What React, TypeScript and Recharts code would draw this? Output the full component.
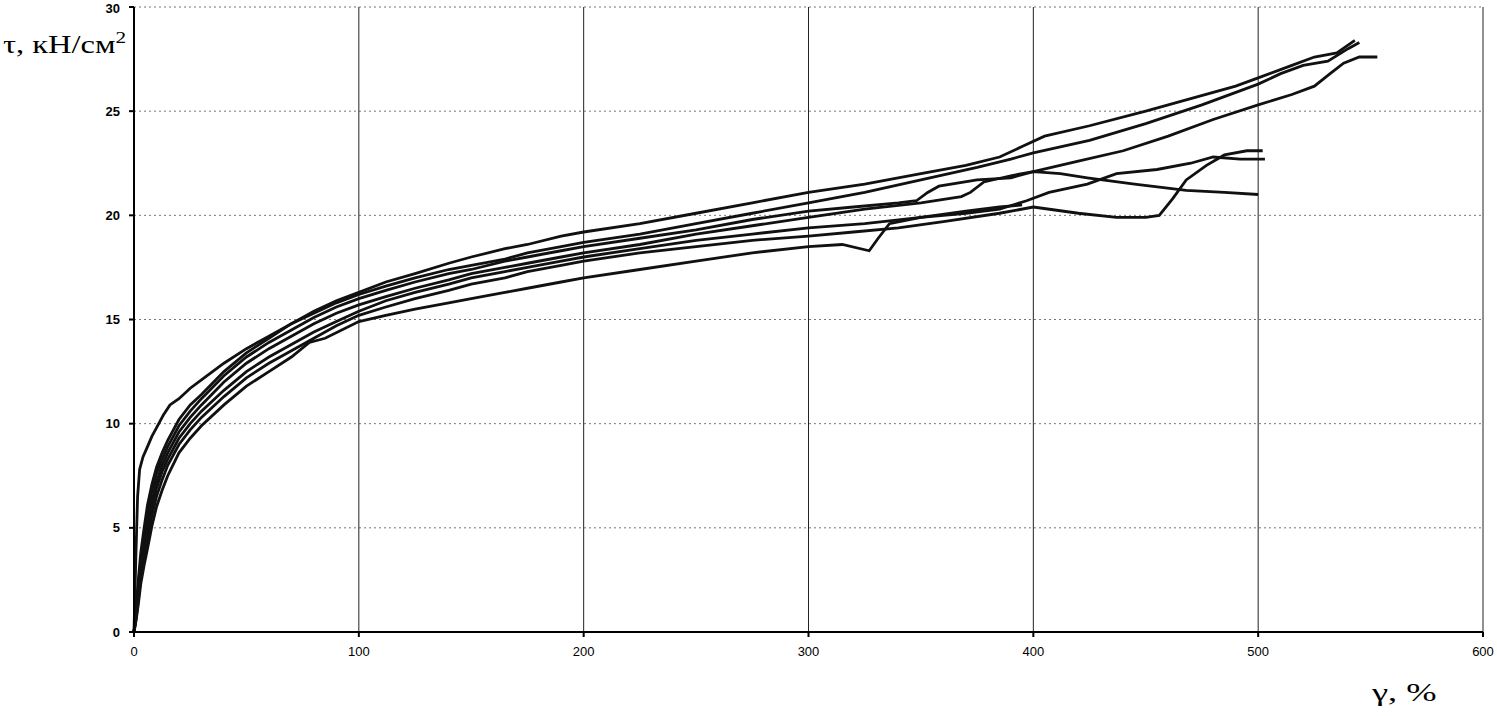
import { LineChart, Line, XAxis, YAxis, CartesianGrid } from "recharts";

// shear strain γ (%) vs shear stress τ (кН/см²), one list of [γ, τ] per specimen
const curveA: [number, number][] = [
  [0, 0], [0.8, 3.5], [1.6, 6.5], [2.5, 7.8], [4, 8.4], [6, 8.9], [8, 9.4], [10, 9.8],
  [13, 10.4], [16, 10.9], [20, 11.2], [25, 11.7], [30, 12.1], [40, 12.9], [50, 13.6],
  [60, 14.2], [70, 14.8], [80, 15.4], [90, 15.9], [100, 16.3], [112, 16.8], [125, 17.2],
  [140, 17.7], [150, 18.0], [165, 18.4], [175, 18.6], [190, 19.0], [200, 19.2], [225, 19.6],
  [250, 20.1], [275, 20.6], [300, 21.1], [325, 21.5], [350, 22.0], [370, 22.4], [385, 22.8],
  [395, 23.3], [405, 23.8], [425, 24.3], [450, 25.0], [470, 25.6], [490, 26.2], [500, 26.6],
  [515, 27.2], [525, 27.6], [535, 27.8], [543, 28.4],
];
const curveB: [number, number][] = [
  [0, 0], [1, 1.2], [2, 2.6], [3, 3.8], [4.5, 5.0], [6, 6.1], [8, 7.1], [10, 7.9],
  [12.5, 8.6], [15, 9.2], [20, 10.2], [25, 10.9], [30, 11.4], [40, 12.5], [50, 13.4],
  [60, 14.1], [70, 14.8], [80, 15.3], [90, 15.8], [100, 16.2], [112, 16.6], [125, 17.0],
  [140, 17.4], [150, 17.6], [165, 17.9], [175, 18.2], [190, 18.5], [200, 18.7], [225, 19.1],
  [250, 19.6], [275, 20.1], [300, 20.6], [325, 21.1], [350, 21.7], [375, 22.3], [390, 22.7],
  [400, 23.0], [425, 23.6], [450, 24.4], [475, 25.3], [500, 26.3], [510, 26.8], [520, 27.2],
  [531, 27.4], [540, 28.0], [545, 28.3],
];
const curveC: [number, number][] = [
  [0, 0], [1, 1.0], [2, 2.3], [3, 3.4], [4.5, 4.6], [6, 5.7], [8, 6.8], [10, 7.6],
  [12.5, 8.3], [15, 8.9], [20, 9.9], [25, 10.6], [30, 11.2], [40, 12.3], [50, 13.2],
  [60, 13.9], [70, 14.5], [80, 15.1], [90, 15.6], [100, 16.0], [112, 16.4], [125, 16.8],
  [140, 17.2], [150, 17.4], [165, 17.8], [175, 18.0], [190, 18.3], [200, 18.5], [225, 18.9],
  [250, 19.3], [275, 19.8], [300, 20.2], [320, 20.4], [340, 20.6], [348, 20.7], [353, 21.1],
  [358, 21.4], [375, 21.7], [390, 21.8], [400, 22.1], [420, 22.6], [440, 23.1], [460, 23.8],
  [480, 24.6], [500, 25.3], [515, 25.8], [525, 26.2], [532, 26.8], [538, 27.3], [545, 27.6],
  [553, 27.6],
];
const curveD: [number, number][] = [
  [0, 0], [1, 0.9], [2, 2.0], [3, 3.1], [4.5, 4.2], [6, 5.2], [8, 6.3], [10, 7.2],
  [12.5, 8.0], [15, 8.6], [20, 9.6], [25, 10.3], [30, 10.9], [40, 12.0], [50, 12.9],
  [60, 13.6], [70, 14.2], [80, 14.8], [90, 15.3], [100, 15.7], [112, 16.1], [125, 16.5],
  [140, 16.9], [150, 17.2], [165, 17.5], [175, 17.7], [190, 18.0], [200, 18.2], [225, 18.6],
  [250, 19.1], [275, 19.5], [300, 19.9], [325, 20.3], [350, 20.6], [368, 20.9], [372, 21.1],
  [378, 21.6], [390, 21.9], [400, 22.1], [412, 22.0], [424, 21.8], [445, 21.5], [468, 21.2],
  [485, 21.1], [500, 21.0],
];
const curveE: [number, number][] = [
  [0, 0], [1, 0.8], [2, 1.8], [3, 2.9], [4.5, 3.9], [6, 4.9], [8, 6.0], [10, 6.9],
  [12.5, 7.7], [15, 8.3], [20, 9.3], [25, 10.0], [30, 10.6], [40, 11.6], [50, 12.5],
  [60, 13.2], [70, 13.8], [80, 14.4], [90, 14.9], [100, 15.4], [112, 15.9], [125, 16.3],
  [140, 16.7], [150, 17.0], [165, 17.3], [175, 17.5], [190, 17.8], [200, 18.0], [225, 18.4],
  [250, 18.8], [275, 19.1], [300, 19.4], [325, 19.6], [350, 19.9], [370, 20.1], [385, 20.3],
  [397, 20.7], [407, 21.1], [424, 21.5], [437, 22.0], [455, 22.2], [470, 22.5], [480, 22.8],
  [492, 22.7], [503, 22.7],
];
const curveF: [number, number][] = [
  [0, 0], [1, 0.7], [2, 1.6], [3, 2.6], [4.5, 3.6], [6, 4.5], [8, 5.6], [10, 6.5],
  [12.5, 7.3], [15, 8.0], [20, 9.0], [25, 9.7], [30, 10.3], [40, 11.3], [50, 12.2],
  [60, 12.9], [70, 13.5], [80, 14.1], [90, 14.7], [100, 15.2], [112, 15.6], [125, 16.0],
  [140, 16.4], [150, 16.7], [165, 17.0], [175, 17.3], [190, 17.6], [200, 17.8], [225, 18.2],
  [250, 18.5], [275, 18.8], [300, 19.0], [320, 19.2], [340, 19.4], [360, 19.7], [385, 20.1],
  [400, 20.4], [420, 20.1], [437, 19.9], [450, 19.9], [456, 20.0], [462, 20.8], [468, 21.7],
  [477, 22.4], [485, 22.9], [495, 23.1], [502, 23.1],
];
const curveG: [number, number][] = [
  [0, 0], [1, 0.6], [2, 1.4], [3, 2.3], [4.5, 3.2], [6, 4.0], [8, 5.1], [10, 6.0],
  [12.5, 6.8], [15, 7.5], [20, 8.6], [25, 9.3], [30, 9.9], [40, 10.9], [50, 11.8],
  [60, 12.5], [70, 13.2], [78, 13.9], [85, 14.1], [100, 14.9], [112, 15.2], [125, 15.5],
  [140, 15.8], [150, 16.0], [165, 16.3], [175, 16.5], [190, 16.8], [200, 17.0], [225, 17.4],
  [250, 17.8], [275, 18.2], [300, 18.5], [315, 18.6], [327, 18.3], [331, 18.9], [336, 19.6],
  [350, 19.9], [370, 20.2], [385, 20.4], [395, 20.5],
];

const curves = [curveA, curveB, curveC, curveD, curveE, curveF, curveG];

const xTicks = [0, 100, 200, 300, 400, 500, 600];
const yTicks = [0, 5, 10, 15, 20, 25, 30];

const yLabel = "τ, кН/см";
const xLabel = "γ, %";

const toRows = (pts: [number, number][]) => pts.map(([x, y]) => ({ x, y }));

export default function App() {
  return (
    <div style={{ position: "absolute", left: 0, top: 0, width: 1497, height: 716, background: "#fff" }}>
      <LineChart width={1497} height={716} margin={{ top: 7, right: 14, bottom: 54, left: 74 }}>
        <CartesianGrid vertical={false} stroke="#777" strokeDasharray="2 3" />
        <CartesianGrid horizontal={false} stroke="#222" strokeWidth={1} />
        <XAxis
          type="number"
          dataKey="x"
          domain={[0, 600]}
          ticks={xTicks}
          height={30}
          stroke="#000"
          strokeWidth={2}
          tickSize={5}
          tickMargin={10}
          tick={{ fill: "#000", fontSize: 13, fontFamily: "Liberation Sans" }}
        />
        <YAxis
          type="number"
          dataKey="y"
          domain={[0, 30]}
          ticks={yTicks}
          width={60}
          stroke="#000"
          strokeWidth={2}
          tickSize={5}
          tickMargin={9}
          tick={{ fill: "#000", fontSize: 13, fontWeight: 700, fontFamily: "Liberation Sans" }}
        />
        {curves.map((c, i) => (
          <Line
            key={i}
            data={toRows(c)}
            dataKey="y"
            type="linear"
            stroke="#111"
            strokeWidth={2.8}
            dot={false}
            isAnimationActive={false}
          />
        ))}
      </LineChart>
      <div
        style={{
          position: "absolute",
          left: 3,
          top: 28,
          fontFamily: "Liberation Serif",
          fontSize: 26,
          color: "#000",
          whiteSpace: "nowrap",
          transform: "scaleX(1.25)",
          transformOrigin: "left",
        }}
      >
        {yLabel}
        <sup style={{ fontSize: 17 }}>2</sup>
      </div>
      <div
        style={{
          position: "absolute",
          left: 1372,
          top: 678,
          fontFamily: "Liberation Serif",
          fontSize: 26,
          color: "#000",
          whiteSpace: "nowrap",
          transform: "scaleX(1.4)",
          transformOrigin: "left",
        }}
      >
        {xLabel}
      </div>
    </div>
  );
}
